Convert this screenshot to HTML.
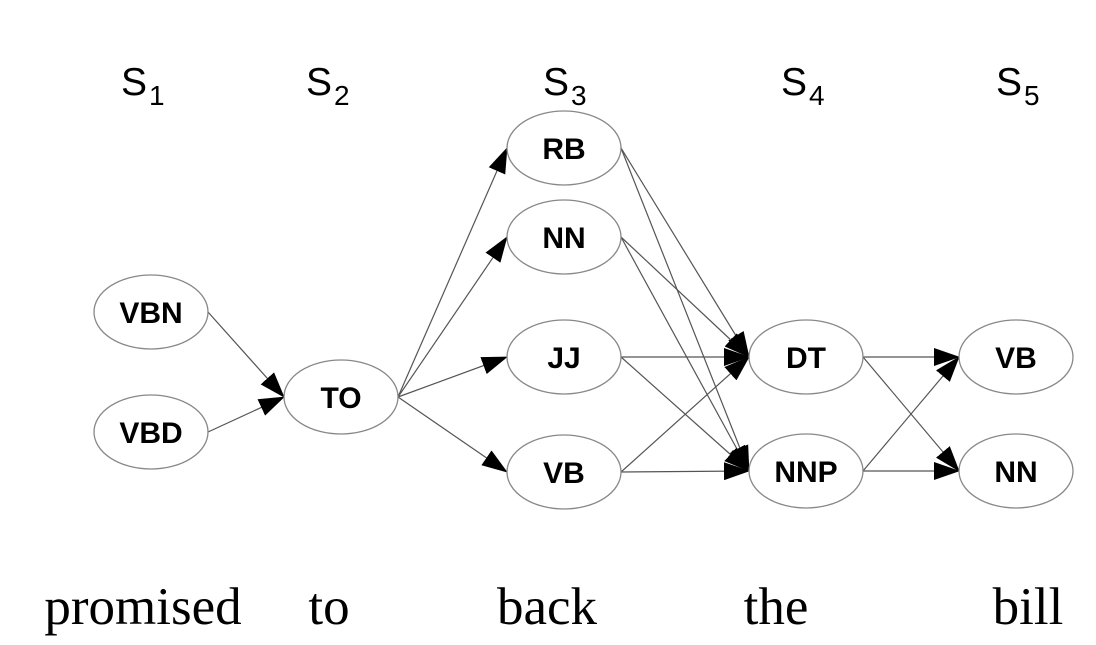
<!DOCTYPE html>
<html><head><meta charset="utf-8"><style>
html,body{margin:0;padding:0;background:#fff;}
svg{display:block;}
</style></head><body>
<svg id="chart" width="1096" height="645" viewBox="0 0 1096 645" xmlns="http://www.w3.org/2000/svg">
<defs>
<marker id="ah" markerWidth="26" markerHeight="18" refX="25" refY="9" orient="auto" markerUnits="userSpaceOnUse">
<path d="M0,0 L26,9 L0,18 Z" fill="#000"/>
</marker>
</defs>
<g id="states"></g>
<g id="edges"></g>
<g id="nodes"></g>
<g id="words"></g>
</svg>
<script>
const stateLabels = ["1","2","3","4","5"];
const stateX = [121, 306, 543, 781, 996];
const words = ["promised","to","back","the","bill"];
const wordX = [143, 329, 547, 776, 1028];
const nodeNames = ["VBN","VBD","TO","RB","NN3","JJ","VB3","DT","NNP","VB5","NN5"];
const nodeLabels = ["VBN","VBD","TO","RB","NN","JJ","VB","DT","NNP","VB","NN"];
const nodeCX = [151,151,341,564,564,564,564,806,806,1016,1016];
const nodeCY = [312,432,397,148,237,357,472,357,471,357,471];
const edgeFrom = ["VBN","VBD","TO","TO","TO","TO","RB","RB","NN3","NN3","JJ","JJ","VB3","VB3","DT","DT","NNP","NNP"];
const edgeTo   = ["TO","TO","RB","NN3","JJ","VB3","DT","NNP","DT","NNP","DT","NNP","DT","NNP","VB5","NN5","VB5","NN5"];
const RX = 57, RY = 37;
const NS = "http://www.w3.org/2000/svg";
const idx = n => nodeNames.indexOf(n);
const sG = document.getElementById('states');
stateLabels.forEach((s,i)=>{
  const t = document.createElementNS(NS,'text');
  t.setAttribute('x', stateX[i]); t.setAttribute('y', 95);
  t.setAttribute('font-family','Liberation Sans, sans-serif'); t.setAttribute('font-size','39');
  
  
  t.innerHTML = 'S<tspan font-size="28" dx="2" dy="10">' + s + '</tspan>';
  sG.appendChild(t);
});
const eG = document.getElementById('edges');
edgeFrom.forEach((f,i)=>{
  const a = idx(f), b = idx(edgeTo[i]);
  const l = document.createElementNS(NS,'line');
  l.setAttribute('x1', nodeCX[a] + RX); l.setAttribute('y1', nodeCY[a]);
  l.setAttribute('x2', nodeCX[b] - RX); l.setAttribute('y2', nodeCY[b]);
  l.setAttribute('stroke','#555'); l.setAttribute('stroke-width','1.2');
  l.setAttribute('marker-end','url(#ah)');
  
  
  eG.appendChild(l);
});
const nG = document.getElementById('nodes');
nodeNames.forEach((n,i)=>{
  const g = document.createElementNS(NS,'g');
  
  
  const e = document.createElementNS(NS,'ellipse');
  e.setAttribute('cx', nodeCX[i]); e.setAttribute('cy', nodeCY[i]);
  e.setAttribute('rx', RX); e.setAttribute('ry', RY);
  e.setAttribute('fill','#fff'); e.setAttribute('stroke','#888'); e.setAttribute('stroke-width','1.3');
  const t = document.createElementNS(NS,'text');
  t.setAttribute('x', nodeCX[i]); t.setAttribute('y', nodeCY[i] + 11);
  t.setAttribute('text-anchor','middle'); t.setAttribute('font-weight','bold');
  t.setAttribute('font-family','Liberation Sans, sans-serif'); t.setAttribute('font-size','30');
  t.textContent = nodeLabels[i];
  g.appendChild(e); g.appendChild(t); nG.appendChild(g);
});
const wG = document.getElementById('words');
words.forEach((w,i)=>{
  const t = document.createElementNS(NS,'text');
  t.setAttribute('x', wordX[i]); t.setAttribute('y', 624);
  t.setAttribute('text-anchor','middle');
  t.setAttribute('font-family','Liberation Serif, serif'); t.setAttribute('font-size','53');
  
  
  t.textContent = w;
  wG.appendChild(t);
});
</script>
</body></html>
